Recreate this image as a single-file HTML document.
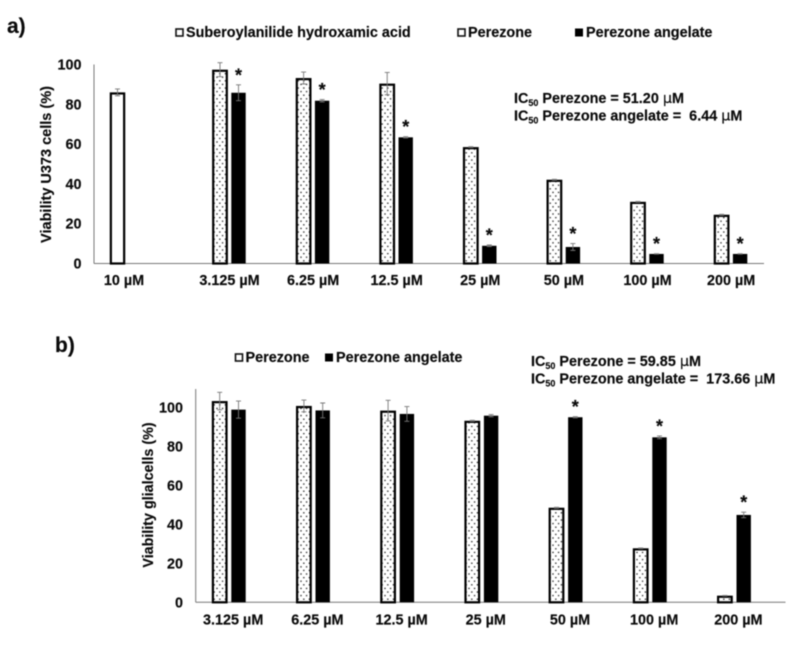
<!DOCTYPE html>
<html lang="en">
<head>
<meta charset="utf-8">
<title>Viability of U373 and glial cells</title>
<style>
html,body{margin:0;padding:0;background:#fff;width:795px;height:647px;overflow:hidden}
svg{display:block;filter:blur(0.45px)}
text{font-family:"Liberation Sans",sans-serif;font-weight:bold;font-size:14.4px;fill:#0a0a0a;stroke:#0a0a0a;stroke-width:0.15px}
.mu{font-family:"DejaVu Sans","Liberation Sans",sans-serif;font-weight:normal}
</style>
</head>
<body>
<svg id="figure" xmlns="http://www.w3.org/2000/svg" width="795" height="647" viewBox="0 0 795 647">
  <defs>
    <pattern id="dots" width="5.6" height="7.2" patternUnits="userSpaceOnUse">
      <rect width="5.6" height="7.2" fill="#fff"/>
      <circle cx="1.4" cy="1.6" r="0.75" fill="#222"/>
      <circle cx="4.2" cy="5.2" r="0.75" fill="#222"/>
    </pattern>
  </defs>
  <rect width="795" height="647" fill="#fff"/>

  <text x="7" y="33" style="font-size:21px">a)</text>
  <g>
    <rect x="176" y="29" width="7" height="7" fill="#fff" stroke="#111" stroke-width="1.6"/>
    <text x="186" y="37">Suberoylanilide hydroxamic acid</text>
    <rect x="458" y="29" width="7" height="7" fill="#fff" stroke="#111" stroke-width="1.6"/>
    <text x="468" y="37">Perezone</text>
    <rect x="575" y="28.5" width="8" height="8" fill="#000"/>
    <text x="586" y="37">Perezone angelate</text>
  </g>
  <text x="514" y="103">IC<tspan dy="3" style="font-size:9px">50</tspan><tspan dy="-3"> Perezone = 51.20 </tspan><tspan class="mu">µ</tspan>M</text>
  <text x="514" y="120.5">IC<tspan dy="3" style="font-size:9px">50</tspan><tspan dy="-3"> Perezone angelate = &#160;6.44 </tspan><tspan class="mu">µ</tspan>M</text>
  <text transform="translate(51,164.5) rotate(-90)" text-anchor="middle" style="font-size:14.5px">Viability U373 cells (%)</text>

  <text x="55" y="352" style="font-size:21px">b)</text>
  <g>
    <rect x="235.5" y="354" width="7" height="7" fill="#fff" stroke="#111" stroke-width="1.6"/>
    <text x="245.5" y="362">Perezone</text>
    <rect x="325" y="353.5" width="8" height="8" fill="#000"/>
    <text x="336" y="362">Perezone angelate</text>
  </g>
  <text x="531" y="366">IC<tspan dy="3" style="font-size:9px">50</tspan><tspan dy="-3"> Perezone = 59.85 </tspan><tspan class="mu">µ</tspan>M</text>
  <text x="531" y="383.5">IC<tspan dy="3" style="font-size:9px">50</tspan><tspan dy="-3"> Perezone angelate = &#160;173.66 </tspan><tspan class="mu">µ</tspan>M</text>
  <text transform="translate(153,495) rotate(-90)" text-anchor="middle" style="font-size:14.3px">Viability glialcells (%)</text>

  <g id="panel-a"></g>
  <g id="panel-b"></g>
</svg>
<script>
var yTicks = [0, 20, 40, 60, 80, 100];

var catsA = ['3.125 µM', '6.25 µM', '12.5 µM', '25 µM', '50 µM', '100 µM', '200 µM'];
var sahaLabel = '10 µM';
var sahaValue = 86;
var sahaError = 1.7;
var perezoneA = [97.4, 93.2, 90.4, 58.5, 42.1, 31, 24.5];
var perezoneErrA = [3.5, 3, 5.6, 0.2, 0.2, 0.2, 0.2];
var angelateA = [85.8, 81.8, 63.4, 8.9, 8.3, 4.8, 4.8];
var angelateErrA = [4, 0.6, 0.3, 0.4, 1.7, 0.1, 0.1];
var starsA = [1, 1, 1, 1, 1, 1, 1];

var catsB = ['3.125 µM', '6.25 µM', '12.5 µM', '25 µM', '50 µM', '100 µM', '200 µM'];
var perezoneB = [103.2, 100.7, 98.3, 93.1, 48.5, 27.7, 3.4];
var perezoneErrB = [4.5, 3, 5.3, 0.2, 0.2, 0.2, 0.1];
var angelateB = [98.8, 98.4, 96.6, 95.7, 94.9, 84.6, 44.8];
var angelateErrB = [4.4, 3.8, 3.8, 0.6, 0.3, 0.7, 1.4];
var starsB = [0, 0, 0, 0, 1, 1, 1];

var SVGNS = 'http://www.w3.org/2000/svg';
function mk(parent, tag, attrs) {
  var el = document.createElementNS(SVGNS, tag);
  for (var k in attrs) el.setAttribute(k, attrs[k]);
  parent.appendChild(el);
  return el;
}

function errorBar(g, x, yHi, yLo, name) {
  var e = mk(g, 'path', {
    d: 'M' + x + ' ' + yHi + 'V' + yLo + 'M' + (x - 2.5) + ' ' + yHi + 'H' + (x + 2.5) + 'M' + (x - 2.5) + ' ' + yLo + 'H' + (x + 2.5),
    fill: 'none', stroke: '#777', 'stroke-width': 0.9
  });
  
  
}

function whiteBar(g, cx, width, value, err, fill, yScale, name) {
  var r = mk(g, 'rect', {
    x: cx - width / 2 + 1.1, y: yScale(value) + 1.1,
    width: width - 2.2, height: yScale(0) - yScale(value) - 1.1,
    fill: fill, stroke: '#000', 'stroke-width': 2.2
  });
  
  
  errorBar(g, cx, yScale(value + err), yScale(value - err), name + '-error');
}

function blackBar(g, cx, width, value, err, yScale, name) {
  var r = mk(g, 'rect', {
    x: cx - width / 2, y: yScale(value),
    width: width, height: yScale(0) - yScale(value), fill: '#000'
  });
  
  
  errorBar(g, cx, yScale(value + err), yScale(value - err), name + '-error');
}

function star(g, cx, y, name) {
  var s = mk(g, 'text', { x: cx, y: y, 'text-anchor': 'middle', style: 'font-size:18px' });
  s.textContent = '*';
  
  
}

function drawAxes(g, o, yScale) {
  var ya = mk(g, 'line', { x1: o.axisX, x2: o.axisX, y1: o.axisTop, y2: yScale(0), stroke: '#777', 'stroke-width': 1 });
  
  
  var xa = mk(g, 'line', { x1: o.axisX, x2: o.axisRight, y1: yScale(0), y2: yScale(0), stroke: '#777', 'stroke-width': 1 });
  
  
  yTicks.forEach(function (t) {
    var l = mk(g, 'text', { x: o.tickRight, y: yScale(t) + 5, 'text-anchor': 'end', style: 'font-size:14.4px' });
    l.textContent = t;
    
    
  });
}

function xLabel(g, cx, y, text) {
  var l = mk(g, 'text', { x: cx, y: y, 'text-anchor': 'middle', style: 'font-size:14.4px' });
  l.textContent = text;
  
  
}

/* Panel a */
(function () {
  var g = document.getElementById('panel-a');
  var y0 = 263.5, k = 1.99;
  var yScale = function (v) { return y0 - v * k; };
  var xScale = function (i) { return 229.5 + i * 83.6; };
  drawAxes(g, { axisX: 94, axisTop: 64.5, axisRight: 764, tickRight: 81.5 }, yScale);
  whiteBar(g, 117.5, 15.5, sahaValue, sahaError, '#fff', yScale, 'bar-saha-10');
  xLabel(g, 124, 285, sahaLabel);
  catsA.forEach(function (c, i) {
    var cx = xScale(i);
    whiteBar(g, cx - 9.5, 15.8, perezoneA[i], perezoneErrA[i], 'url(#dots)', yScale, 'bar-perezone-a-' + i);
    blackBar(g, cx + 9, 14.4, angelateA[i], angelateErrA[i], yScale, 'bar-angelate-a-' + i);
    if (starsA[i]) star(g, cx + 9, yScale(angelateA[i] + angelateErrA[i]) - 3.5, 'significance-star-a-' + i);
    xLabel(g, cx, 285, c);
  });
})();

/* Panel b */
(function () {
  var g = document.getElementById('panel-b');
  var y0 = 602.3, k = 1.95;
  var yScale = function (v) { return y0 - v * k; };
  var xScale = function (i) { return 229.5 + i * 84.2; };
  drawAxes(g, { axisX: 195.7, axisTop: 389, axisRight: 785.5, tickRight: 183 }, yScale);
  catsB.forEach(function (c, i) {
    var cx = xScale(i);
    whiteBar(g, cx - 9.8, 15.8, perezoneB[i], perezoneErrB[i], 'url(#dots)', yScale, 'bar-perezone-b-' + i);
    blackBar(g, cx + 9, 14.4, angelateB[i], angelateErrB[i], yScale, 'bar-angelate-b-' + i);
    if (starsB[i]) star(g, cx + 9, yScale(angelateB[i] + angelateErrB[i]) - 3.5, 'significance-star-b-' + i);
    xLabel(g, cx + 3.7, 624.5, c);
  });
})();
</script>
</body>
</html>
